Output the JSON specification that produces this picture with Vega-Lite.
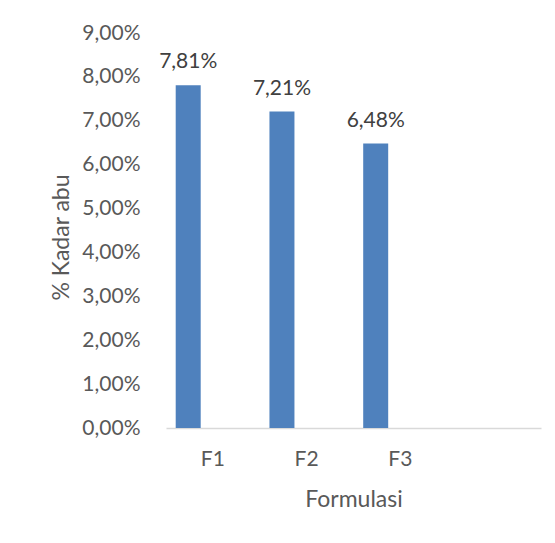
{
  "$schema": "https://vega.github.io/schema/vega-lite/v6.json",
  "width": 375,
  "height": 395,
  "autosize": "none",
  "padding": {"left": 166, "top": 33, "right": 14, "bottom": 115},
  "background": "white",
  "config": {
    "view": {"stroke": null},
    "font": "Lato",
    "locale": {
      "number": {"decimal": ",", "thousands": ".", "grouping": [3], "currency": ["", ""]}
    }
  },
  "data": {
    "values": [
      {"formulasi": "F1", "seri": "Kadar abu", "kadar": 0.0781},
      {"formulasi": "F2", "seri": "Kadar abu", "kadar": 0.0721},
      {"formulasi": "F3", "seri": "Kadar abu", "kadar": 0.0648}
    ]
  },
  "encoding": {
    "x": {
      "field": "formulasi",
      "type": "nominal",
      "scale": {"domain": ["F1", "F2", "F3", ""], "paddingInner": 0, "paddingOuter": 0},
      "axis": {
        "title": "Formulasi",
        "labelAngle": 0,
        "ticks": false,
        "domainColor": "#d9d9d9",
        "domainWidth": 1.5,
        "labelColor": "#595959",
        "labelFontSize": 21,
        "labelPadding": 20,
        "titleColor": "#595959",
        "titleFontSize": 23,
        "titleFontWeight": "normal",
        "titlePadding": 19
      }
    },
    "xOffset": {
      "field": "seri",
      "type": "nominal",
      "scale": {"domain": ["Kadar abu", "lain"], "paddingInner": 0.4934, "paddingOuter": 0.1966}
    },
    "y": {
      "field": "kadar",
      "type": "quantitative",
      "scale": {"domain": [0, 0.09], "nice": false},
      "axis": {
        "title": "% Kadar abu",
        "format": ".2%",
        "values": [0, 0.01, 0.02, 0.03, 0.04, 0.05, 0.06, 0.07, 0.08, 0.09],
        "grid": false,
        "ticks": false,
        "domain": false,
        "labelColor": "#595959",
        "labelFontSize": 21,
        "labelPadding": 26,
        "titleColor": "#595959",
        "titleFontSize": 23,
        "titleFontWeight": "normal",
        "titlePadding": 8,
        "titleY": 204
      }
    }
  },
  "layer": [
    {"mark": {"type": "bar", "color": "#4f81bd"}},
    {
      "mark": {"type": "text", "baseline": "bottom", "dy": -13, "fontSize": 21, "color": "#404040"},
      "encoding": {"text": {"field": "kadar", "type": "quantitative", "format": ".2%"}}
    }
  ]
}
